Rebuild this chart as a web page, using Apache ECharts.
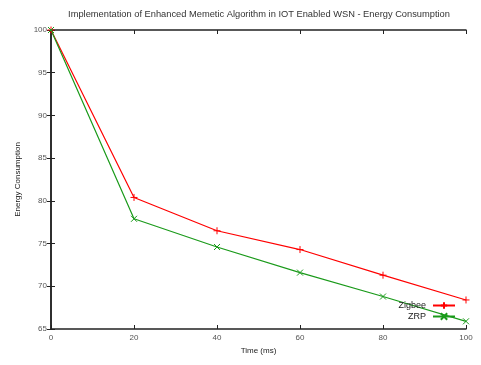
<!DOCTYPE html>
<html><head><meta charset="utf-8">
<script src="https://cdn.jsdelivr.net/npm/echarts@6/dist/echarts.min.js"></script>
<style>html,body{margin:0;padding:0;background:#fff}#c{width:481px;height:365px}</style>
</head><body><div id="c"></div>
<script>
const times = [0, 20, 40, 60, 80, 100];
const zigbee = [100, 80.4, 76.5, 74.3, 71.3, 68.4];
const zrp = [100, 77.9, 74.6, 71.6, 68.8, 65.9];
const seriesNames = ['Zigbee', 'ZRP'];
const titleText = 'Implementation of Enhanced Memetic Algorithm in IOT Enabled WSN - Energy Consumption';

const font = 'Liberation Sans, Arial, sans-serif';
const plus = 'path://M0,5L10,5M5,0L5,10';
const cross = 'path://M0,0L10,10M10,0L0,10';
const axisCol = '#222';
const chart = echarts.init(document.getElementById('c'));
function pairs(v){ return times.map((t,i)=>[t, v[i]]); }
chart.setOption({
  animation: false,
  title: { text: titleText, left: 254, top: 5, textAlign: 'center',
    textStyle: { fontSize: 9.3, fontWeight: 'normal', color: '#333', fontFamily: font } },
  grid: { left: 51, right: 15, top: 30, bottom: 36, containLabel: false },
  legend: {
    orient: 'vertical', right: 20, top: 296, align: 'right', itemGap: 2,
    itemWidth: 22, itemHeight: 8,
    textStyle: { fontSize: 9, color: '#222', fontFamily: font, padding: [0, 2, 0, 0] },
    data: seriesNames
  },
  xAxis: [{
    type: 'value', min: 0, max: 100, interval: 20,
    name: 'Time (ms)', nameLocation: 'middle', nameGap: 18,
    nameTextStyle: { fontSize: 8, color: '#222', fontFamily: font },
    axisLine: { show: true, lineStyle: { color: axisCol, width: 1.5 } },
    axisTick: { show: true, inside: true, length: 4, lineStyle: { color: axisCol } },
    axisLabel: { fontSize: 8, color: '#555', fontFamily: font, margin: 5 },
    splitLine: { show: false }
  }, {
    type: 'value', min: 0, max: 100, interval: 20, position: 'top',
    axisLine: { show: true, lineStyle: { color: axisCol, width: 1.5 } },
    axisTick: { show: true, inside: true, length: 4, lineStyle: { color: axisCol } },
    axisLabel: { show: false }, splitLine: { show: false }
  }],
  yAxis: [{
    type: 'value', min: 65, max: 100, interval: 5,
    name: 'Energy Consumption', nameLocation: 'middle', nameGap: 29,
    nameTextStyle: { fontSize: 8, color: '#222', fontFamily: font },
    axisLine: { show: true, lineStyle: { color: axisCol, width: 1.5 } },
    axisTick: { show: true, inside: true, length: 4, lineStyle: { color: axisCol } },
    axisLabel: { fontSize: 8, color: '#555', fontFamily: font, margin: 4 },
    splitLine: { show: false }
  }, {
    type: 'value', min: 65, max: 100, interval: 5, position: 'right',
    axisLine: { show: true, lineStyle: { color: axisCol, width: 1.5 } },
    axisTick: { show: true, inside: true, length: 4, lineStyle: { color: axisCol } },
    axisLabel: { show: false }, splitLine: { show: false }
  }],
  series: [{
    name: seriesNames[0], type: 'line', data: pairs(zigbee),
    symbol: plus, symbolSize: 7, showAllSymbol: true,
    lineStyle: { color: '#ff0000', width: 1.2 },
    itemStyle: { color: '#ff0000', borderColor: '#ff0000', borderWidth: 1 }
  }, {
    name: seriesNames[1], type: 'line', data: pairs(zrp),
    symbol: cross, symbolSize: 6, showAllSymbol: true,
    lineStyle: { color: '#1a9a1a', width: 1.2 },
    itemStyle: { color: '#1a9a1a', borderColor: '#1a9a1a', borderWidth: 1 }
  }]
});
</script></body></html>
